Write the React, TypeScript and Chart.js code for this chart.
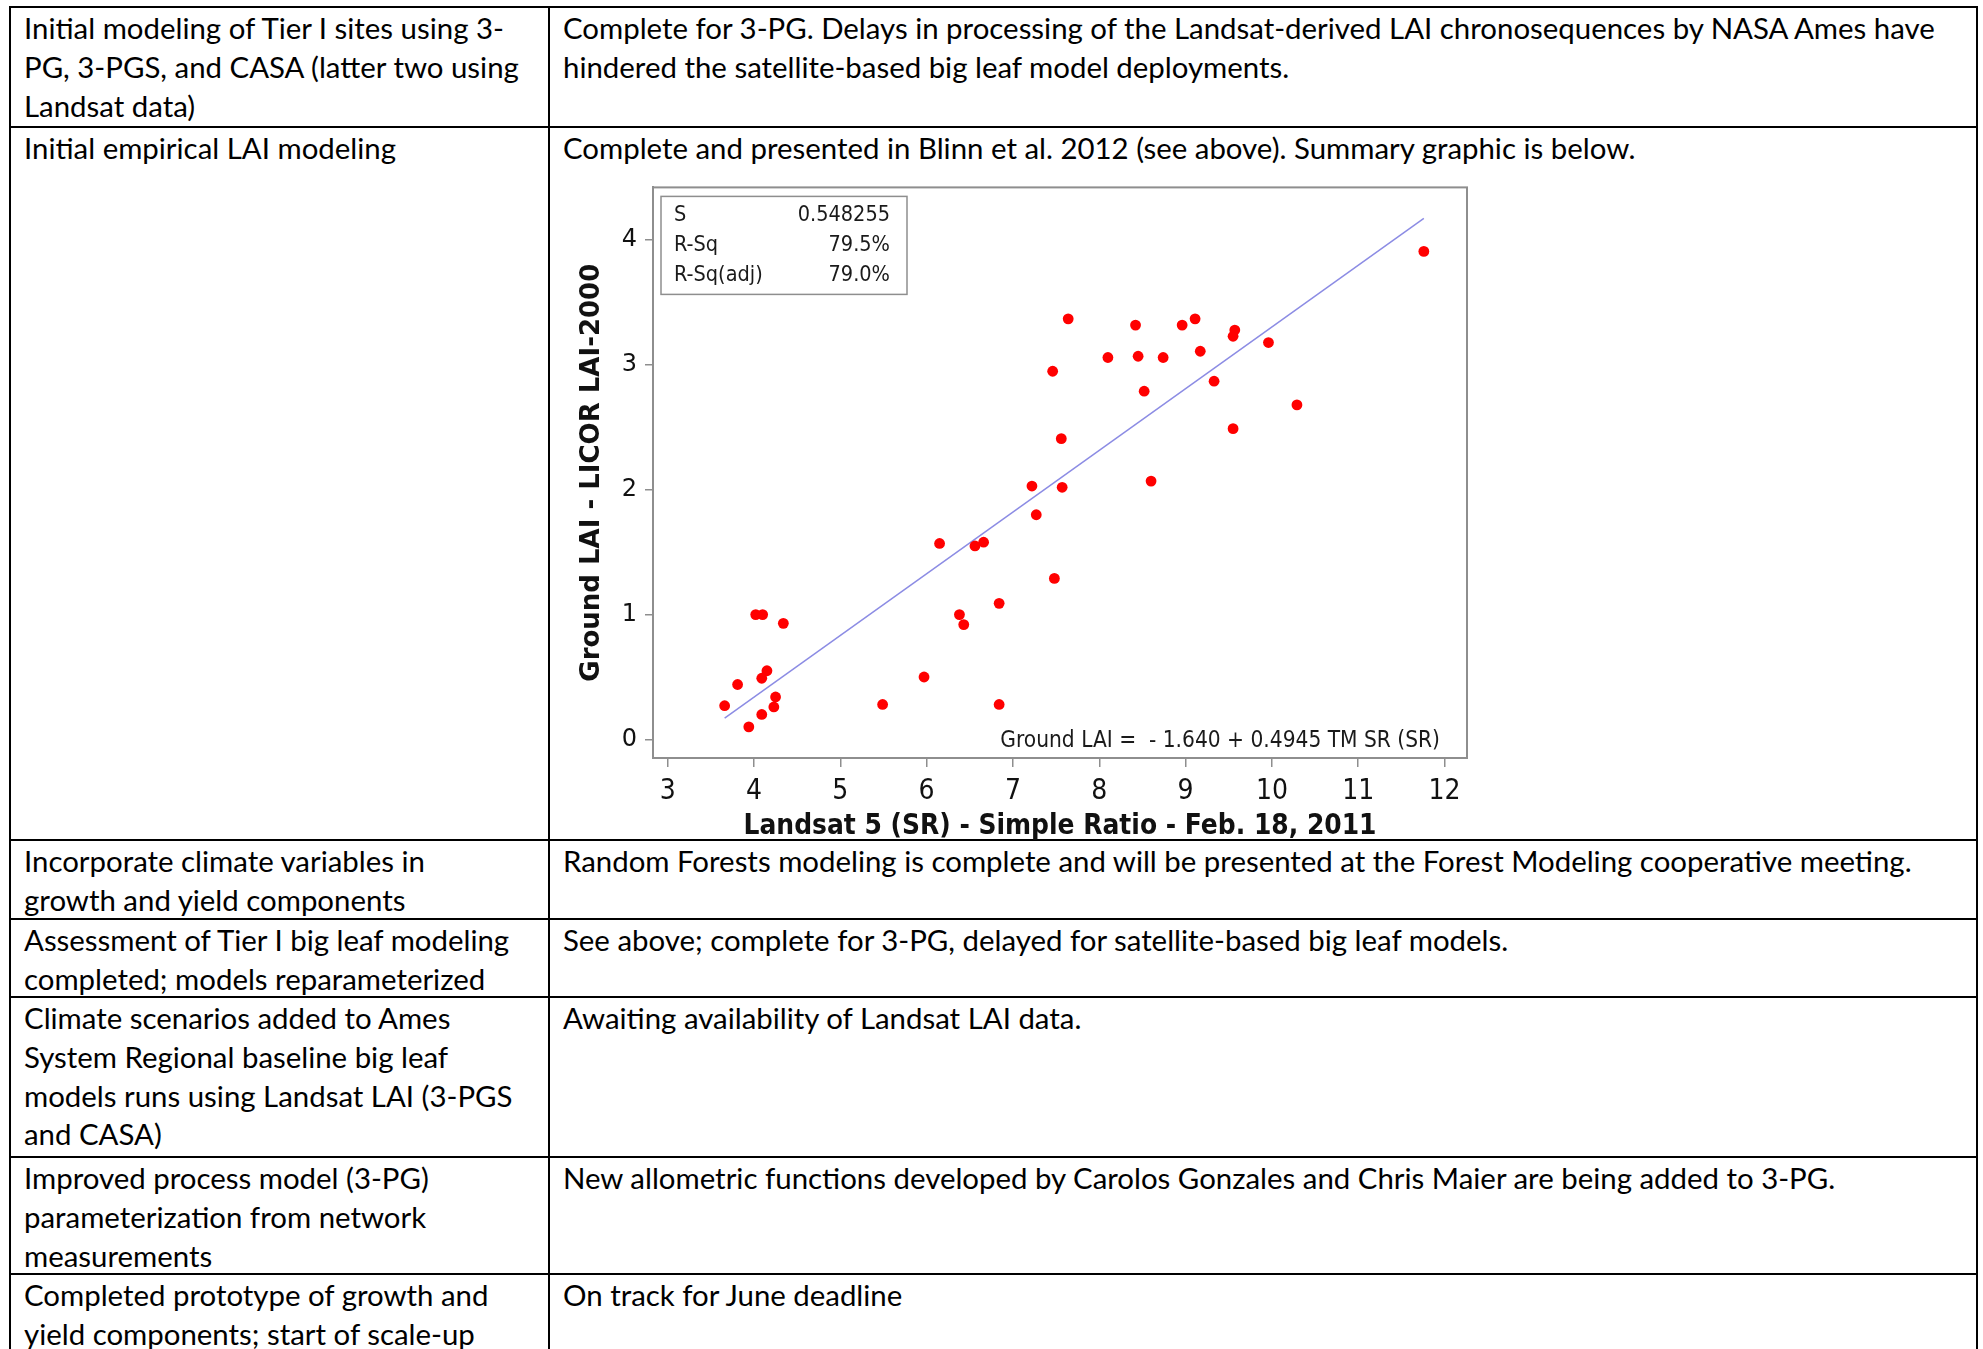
import React, { useEffect, useRef } from "react";
import { Chart, registerables } from "chart.js";

Chart.register(...registerables);

// Landsat 5 simple ratio (x) and measured ground LAI (y) per plot
const srValues = [
  7.64, 8.42, 8.96, 9.11, 9.57, 9.55, 9.96, 8.1, 8.45, 8.74, 9.17, 7.46, 9.33, 8.52, 10.29,
  9.55, 7.56, 11.76, 8.6, 7.22, 7.57, 7.27, 6.15, 6.56, 6.66, 7.48, 6.84, 6.38, 6.43, 4.02,
  4.1, 4.34, 4.15, 4.09, 3.81, 5.97, 4.25, 4.23, 3.66, 4.09, 3.94, 5.49, 6.84,
];
const laiValues = [
  3.37, 3.32, 3.32, 3.37, 3.28, 3.23, 3.18, 3.06, 3.07, 3.06, 3.11, 2.95, 2.87, 2.79, 2.68,
  2.49, 2.41, 3.91, 2.07, 2.03, 2.02, 1.8, 1.57, 1.55, 1.58, 1.29, 1.09, 1.0, 0.92, 1.0,
  1.0, 0.93, 0.55, 0.49, 0.44, 0.5, 0.34, 0.26, 0.27, 0.2, 0.1, 0.28, 0.28,
];

const xTicks = [3, 4, 5, 6, 7, 8, 9, 10, 11, 12];
const yTicks = [0, 1, 2, 3, 4];

// Fitted regression: Ground LAI = intercept + slope * SR
const intercept = -1.64;
const slope = 0.4945;
const statLabels = ["S", "R-Sq", "R-Sq(adj)"];
const statValues = ["0.548255", "79.5%", "79.0%"];

const xTitle = "Landsat 5 (SR) - Simple Ratio - Feb. 18, 2011";
const yTitle = "Ground LAI - LICOR LAI-2000";

// Progress table: task column and status column, one entry per row (lines as wrapped)
const taskLines = [
  ["Initial modeling of Tier I sites using 3-", "PG, 3-PGS, and CASA (latter two using", "Landsat data)"],
  ["Initial empirical LAI modeling"],
  ["Incorporate climate variables in", "growth and yield components"],
  ["Assessment of Tier I big leaf modeling", "completed; models reparameterized"],
  [
    "Climate scenarios added to Ames",
    "System Regional baseline big leaf",
    "models runs using Landsat LAI (3-PGS",
    "and CASA)",
  ],
  ["Improved process model (3-PG)", "parameterization from network", "measurements"],
  ["Completed prototype of growth and", "yield components; start of scale-up"],
];
const statusLines = [
  [
    "Complete for 3-PG. Delays in processing of the Landsat-derived LAI chronosequences by NASA Ames have",
    "hindered the satellite-based big leaf model deployments.",
  ],
  ["Complete and presented in Blinn et al. 2012 (see above). Summary graphic is below."],
  ["Random Forests modeling is complete and will be presented at the Forest Modeling cooperative meeting."],
  ["See above; complete for 3-PG, delayed for satellite-based big leaf models."],
  ["Awaiting availability of Landsat LAI data."],
  ["New allometric functions developed by Carolos Gonzales and Chris Maier are being added to 3-PG."],
  ["On track for June deadline"],
];

// Table geometry
const ROW_LINES = [6, 126, 839, 918, 996, 1156, 1273];
const COL_LINES = [9, 548, 1976];
const RULE = 2;
const LINE_H = 38.8;
const TEXT_FONT = "Lato, 'Open Sans', sans-serif";
const TEXT_SIZE = 29.4;

const AXIS_GRAY = "#8e8e8e";
const LABEL_FONT = "'DejaVu Sans Condensed', 'DejaVu Sans', sans-serif";

const framePlugin = {
  id: "minitabFrame",
  beforeDatasetsDraw(chart: any) {
    const { ctx, chartArea: a } = chart;
    ctx.save();
    ctx.strokeStyle = AXIS_GRAY;
    ctx.lineWidth = 2;
    ctx.strokeRect(a.left, a.top, a.right - a.left, a.bottom - a.top);
    ctx.restore();
  },
  afterDraw(chart: any) {
    const { ctx, chartArea: a } = chart;
    ctx.save();
    // statistics box
    const bx = a.left + 8;
    const by = a.top + 9;
    const bw = 246;
    const bh = 98;
    ctx.fillStyle = "#ffffff";
    ctx.fillRect(bx, by, bw, bh);
    ctx.strokeStyle = AXIS_GRAY;
    ctx.lineWidth = 1.5;
    ctx.strokeRect(bx, by, bw, bh);
    ctx.font = `21.5px ${LABEL_FONT}`;
    ctx.fillStyle = "#1a1a1a";
    ctx.textBaseline = "middle";
    statLabels.forEach((lab, i) => {
      const y = by + 19 + i * 30;
      ctx.textAlign = "left";
      ctx.fillText(lab, bx + 13, y);
      ctx.textAlign = "right";
      ctx.fillText(statValues[i], bx + 229, y);
    });
    // regression equation
    ctx.textAlign = "right";
    ctx.font = `22.5px ${LABEL_FONT}`;
    const eq = `Ground LAI =  - ${Math.abs(intercept).toFixed(3)} + ${slope.toFixed(4)} TM SR (SR)`;
    ctx.fillText(eq, a.right - 27, a.bottom - 17);
    ctx.restore();
  },
};

function LaiChart() {
  const ref = useRef<HTMLCanvasElement | null>(null);
  useEffect(() => {
    if (!ref.current) return;
    const pts = srValues.map((x, i) => ({ x, y: laiValues[i] }));
    const xMin = Math.min(...srValues);
    const xMax = Math.max(...srValues);
    const fit = [
      { x: xMin, y: intercept + slope * xMin },
      { x: xMax, y: intercept + slope * xMax },
    ];
    const chart = new Chart(ref.current, {
      type: "scatter",
      data: {
        datasets: [
          {
            data: pts,
            backgroundColor: "#ff0000",
            borderWidth: 0,
            pointRadius: 5.4,
            order: 1,
          },
          {
            data: fit,
            showLine: true,
            borderColor: "#8c8ce4",
            borderWidth: 1.5,
            pointRadius: 0,
            order: 2,
          } as any,
        ],
      },
      options: {
        animation: false,
        responsive: false,
        layout: { padding: { top: 18.5, right: 25, left: 0, bottom: 0 } },
        plugins: { legend: { display: false }, tooltip: { enabled: false } },
        scales: {
          x: {
            type: "linear",
            min: 2.83,
            max: 12.26,
            afterBuildTicks: (s: any) => {
              s.ticks = xTicks.map((v) => ({ value: v }));
            },
            afterFit: (s: any) => {
              s.height = 87;
            },
            grid: {
              display: true,
              drawOnChartArea: false,
              drawTicks: true,
              tickLength: 9,
              color: AXIS_GRAY,
              lineWidth: 1.5,
            },
            border: { display: true, color: AXIS_GRAY, width: 2 },
            ticks: {
              autoSkip: false,
              maxRotation: 0,
              padding: 8,
              color: "#111",
              font: { family: LABEL_FONT, size: 28 },
              callback: (v: any) => String(v),
            },
            title: {
              display: true,
              text: xTitle,
              color: "#111",
              font: { family: LABEL_FONT, size: 27.8, weight: "bold" },
              padding: { top: 0, bottom: 2 },
            },
          },
          y: {
            type: "linear",
            min: -0.149,
            max: 4.423,
            afterBuildTicks: (s: any) => {
              s.ticks = yTicks.map((v) => ({ value: v }));
            },
            afterFit: (s: any) => {
              s.width = 97;
            },
            grid: {
              display: true,
              drawOnChartArea: false,
              drawTicks: true,
              tickLength: 8,
              color: AXIS_GRAY,
              lineWidth: 1.5,
            },
            border: { display: true, color: AXIS_GRAY, width: 2 },
            ticks: {
              padding: 8,
              color: "#111",
              font: { family: "'DejaVu Sans', sans-serif", size: 24 },
              callback: (v: any) => String(v),
            },
            title: {
              display: true,
              text: yTitle,
              color: "#111",
              font: { family: "'DejaVu Sans', sans-serif", size: 26, weight: "bold" },
              padding: { top: 21, bottom: 0 },
            },
          },
        },
      },
      plugins: [framePlugin],
    });
    return () => chart.destroy();
  }, []);
  return (
    <canvas
      ref={ref}
      width={936}
      height={680}
      style={{ position: "absolute", left: 556, top: 165, width: 936, height: 680 }}
    />
  );
}

export default function App() {
  const bottom = 1349;
  return (
    <div
      style={{
        position: "absolute",
        left: 0,
        top: 0,
        width: 1983,
        height: 1349,
        overflow: "hidden",
        background: "#fff",
        fontFamily: TEXT_FONT,
        fontSize: TEXT_SIZE,
        color: "#000",
      }}
    >
      {ROW_LINES.map((y, i) => (
        <div
          key={"h" + i}
          style={{ position: "absolute", left: COL_LINES[0], top: y, width: COL_LINES[2] - COL_LINES[0] + RULE, height: RULE, background: "#000" }}
        />
      ))}
      {COL_LINES.map((x, i) => (
        <div
          key={"v" + i}
          style={{ position: "absolute", left: x, top: ROW_LINES[0], width: RULE, height: bottom - ROW_LINES[0], background: "#000" }}
        />
      ))}
      {taskLines.map((lines, r) => (
        <div
          key={"t" + r}
          style={{ position: "absolute", left: 24, top: ROW_LINES[r] + 3, lineHeight: `${LINE_H}px`, whiteSpace: "nowrap" }}
        >
          {lines.map((l, k) => (
            <div key={k}>{l}</div>
          ))}
        </div>
      ))}
      {statusLines.map((lines, r) => (
        <div
          key={"s" + r}
          style={{ position: "absolute", left: 563, top: ROW_LINES[r] + 3, lineHeight: `${LINE_H}px`, whiteSpace: "nowrap" }}
        >
          {lines.map((l, k) => (
            <div key={k}>{l}</div>
          ))}
        </div>
      ))}
      <LaiChart />
    </div>
  );
}
